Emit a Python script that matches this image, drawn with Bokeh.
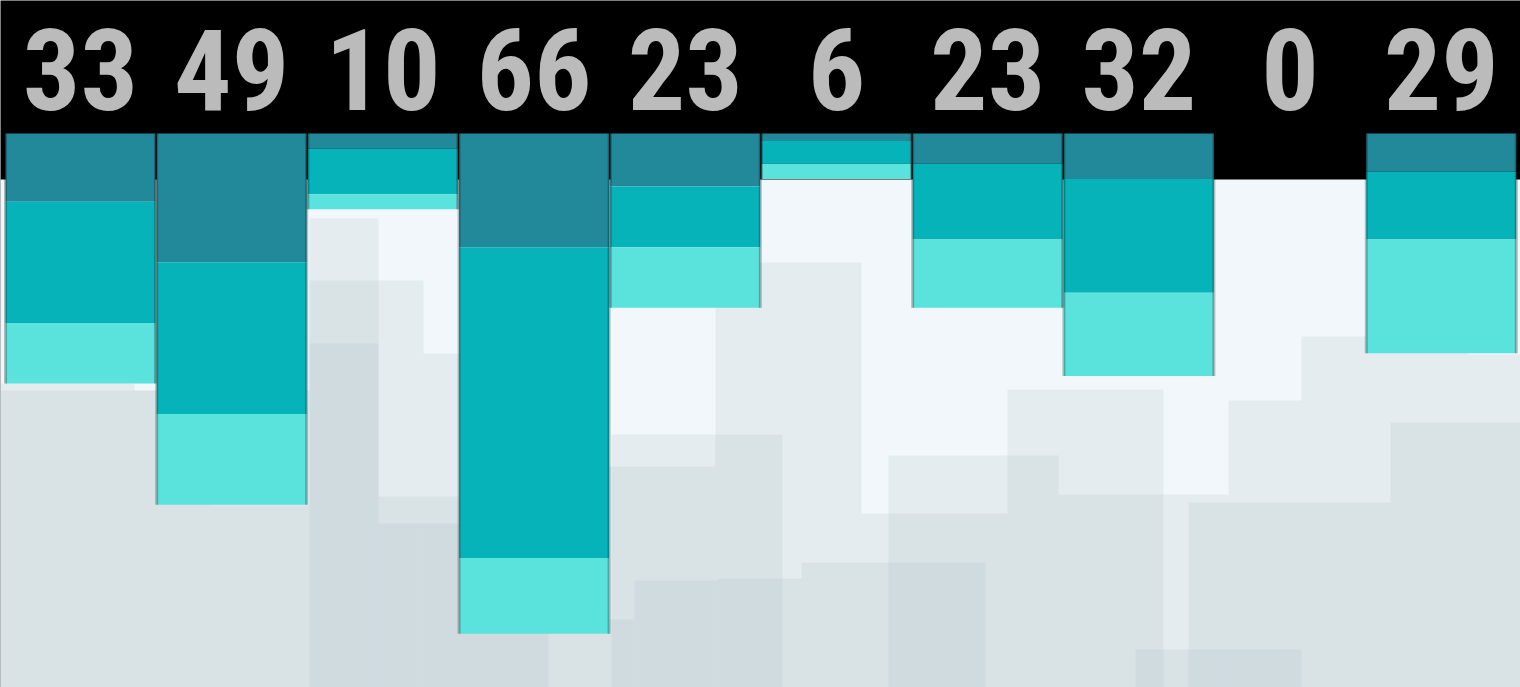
from bokeh.plotting import figure
from bokeh.models import Range1d, ColumnDataSource
from bokeh.core.properties import value
from bokeh.embed import file_html
from bokeh.resources import INLINE

# ---- data ----
columns = [0, 1, 2, 3, 4, 5, 6, 7, 8, 9]
totals = [33, 49, 10, 66, 23, 6, 23, 32, 0, 29]
seg_dark = [9, 17, 2, 15, 7, 1, 4, 6, 0, 5]
seg_mid = [16, 20, 6, 41, 8, 3, 10, 15, 0, 9]
seg_light = [8, 12, 2, 10, 8, 2, 9, 11, 0, 15]
labels = [str(t) for t in totals]

# decorative skyline behind the bars, on a 1520 x 687 backdrop grid
sky_left = [0, 0, 134, 209, 309, 309, 309, 423, 378, 378,
            548, 548, 611, 715, 634, 718, 801, 861, 888, 1007,
            1058, 1188, 1228, 1135, 1301, 1390, 1468]
sky_right = [134, 209, 309, 309, 378, 423, 378, 548, 548, 548,
             715, 634, 782, 861, 718, 801, 985, 1007, 1058, 1163,
             1228, 1390, 1301, 1301, 1468, 1520, 1520]
sky_top = [383, 390, 390, 505, 218, 280, 343, 353, 496, 523,
           466, 619, 434, 262, 580, 578, 562, 513, 455, 389,
           494, 502, 400, 649, 336, 422, 354]
sky_bottom = [687] * len(sky_top)
header_bottom = [179]

BAR_W = 0.992

p = figure(width=1520, height=687,
           x_range=Range1d(-0.529, 9.524), y_range=Range1d(73.1, -17.55),
           output_backend="svg", toolbar_location=None, min_border=0,
           background_fill_color="black", border_fill_color="black",
           outline_line_color=None,
           styles={"position": "fixed", "left": "0px", "top": "0px"})
p.extra_x_ranges = {"grid_x": Range1d(0, 1520)}
p.extra_y_ranges = {"grid_y": Range1d(687, 0)}
p.axis.visible = False
p.grid.visible = False

# light panel below the black header
p.quad(left=[-10], right=[1530], top=header_bottom, bottom=[700],
       fill_color="#f1f7fa", line_color=None,
       x_range_name="grid_x", y_range_name="grid_y")

# skyline
p.quad(left=sky_left, right=sky_right, top=sky_top, bottom=sky_bottom,
       fill_color="#9fb2ba", fill_alpha=0.16, line_color=None,
       x_range_name="grid_x", y_range_name="grid_y")

# stacked bars
src = ColumnDataSource(dict(x=columns, dark=seg_dark, mid=seg_mid, light=seg_light))
p.vbar_stack(["dark", "mid", "light"], x="x", width=BAR_W, source=src,
             color=["#22899b", "#06b3b9", "#5ae3dd"], line_color=None)

# soft edge shadows of bars
edge_x = []
edge_y1 = []
for c, t in zip(columns, totals):
    if t > 0:
        edge_x += [c - BAR_W / 2, c + BAR_W / 2]
        edge_y1 += [t, t]
p.segment(x0=edge_x, y0=[0] * len(edge_x), x1=edge_x, y1=edge_y1,
          line_color="black", line_alpha=0.25, line_width=3)

# big numbers in the header
p.text(x=columns, y=[-8.45] * len(columns), text=labels,
       text_font=value("'Noto Sans ExtraCondensed', 'Roboto Condensed', 'DejaVu Sans Condensed', sans-serif"),
       text_font_style="bold",
       text_font_size="114px", text_color="#bbbbbb",
       text_align="center", text_baseline="alphabetic")

open("out.html", "w").write(file_html(p, INLINE))
